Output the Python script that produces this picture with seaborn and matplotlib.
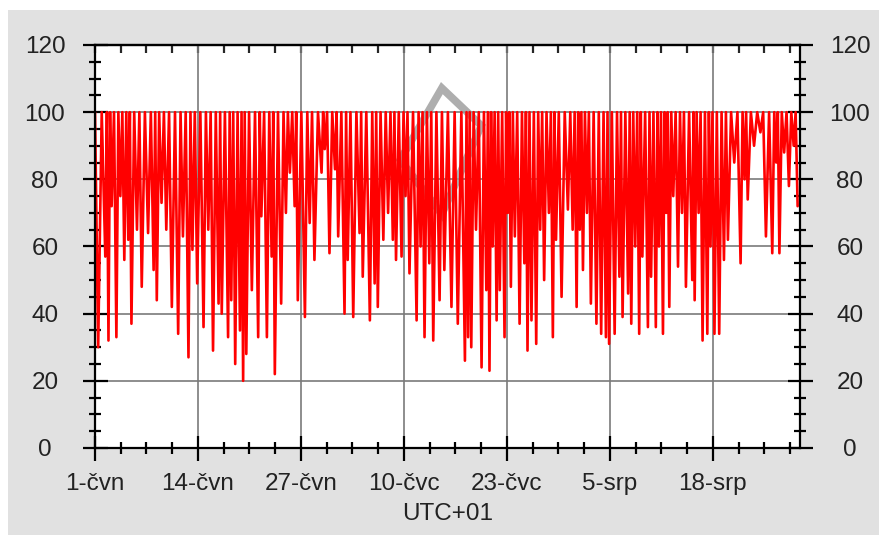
import numpy as np
import pandas as pd
import matplotlib
matplotlib.use("Agg")
import matplotlib.pyplot as plt
import matplotlib.dates as mdates
from matplotlib.patches import Rectangle, Polygon
from matplotlib.ticker import FixedLocator, MultipleLocator
import seaborn as sns

# relative humidity troughs: day offset from 1 June, value in %
trough_day = [0.4, 1.3, 1.7, 2.1, 2.7, 3.2, 3.7, 4.2, 4.6, 5.3, 5.9, 6.7, 7.4, 7.8, 8.4, 9.0,
              9.7, 10.5, 11.1, 11.8, 12.3, 12.9, 13.7, 14.3, 14.9,
              15.6, 16.0, 16.8, 17.2, 17.7, 18.3, 18.7, 19.1, 19.8, 20.6, 21.0, 21.7, 22.3,
              22.7, 23.5, 24.1, 24.6, 25.2, 25.6, 26.5, 27.1, 27.7, 28.6, 29.0, 29.6, 30.3,
              30.7, 31.5, 31.9, 32.6, 33.4, 33.8, 34.7, 35.3, 35.7, 36.4, 37.0, 37.6, 38.0,
              38.7, 39.2, 39.7, 40.6, 41.1, 41.6, 42.2, 42.7, 43.5, 44.1, 45.0,
              45.8, 46.7, 47.1, 47.5, 48.1, 48.8, 49.4, 49.8, 50.2, 50.7, 51.1, 51.7, 52.1,
              52.5, 53.0, 53.6, 54.2, 54.6, 55.1, 55.7, 56.2, 56.7, 57.3, 57.8, 58.2, 58.9,
              59.7, 60.3,
              60.8, 61.2, 61.6, 62.1, 62.6, 63.3, 63.9, 64.5, 64.9, 65.6, 66.2, 66.6, 67.3,
              67.7, 68.2, 68.7, 69.1, 69.8, 70.2, 70.8, 71.2, 71.7, 72.1, 72.5, 73.0, 73.6,
              74.1, 74.6, 75.4,
              75.7, 76.2, 76.7, 77.3, 77.7, 78.2, 78.8, 79.4, 79.9, 80.7, 81.5, 82.0, 82.4,
              83.2, 84.0, 84.7, 85.5, 86.0, 86.4, 87.0, 87.6, 88.2, 88.7]
trough_val = [30, 57, 32, 72, 33, 75, 56, 62, 37, 65, 48, 64, 53, 44, 73, 65,
              42, 34, 63, 27, 59, 49, 36, 65, 29,
              43, 40, 33, 44, 25, 35, 20, 28, 47, 33, 69, 33, 57,
              22, 43, 70, 82, 72, 44, 39, 67, 56, 82, 89, 58, 83,
              63, 40, 56, 39, 64, 51, 38, 49, 42, 62, 70, 62, 56,
              57, 75, 52, 38, 60, 33, 55, 32, 44, 53, 42,
              37, 26, 33, 30, 65, 24, 47, 23, 60, 38, 47, 33, 70,
              48, 63, 37, 55, 29, 38, 31, 65, 50, 70, 33, 62, 45,
              71, 65,
              42, 65, 53, 70, 43, 37, 34, 33, 31, 34, 51, 39, 46,
              37, 60, 34, 57, 36, 51, 36, 60, 34, 70, 42, 75, 54,
              70, 48, 50,
              44, 70, 32, 34, 60, 34, 34, 56, 62, 85, 55, 80, 74,
              90, 94, 63, 58, 85, 58, 88, 78, 90, 72]
SATURATION = 100  # humidity ceiling reached between troughs

start = pd.Timestamp("2015-06-01")
n_days = 89
tick_labels = ["1-čvn", "14-čvn", "27-čvn", "10-čvc", "23-čvc", "5-srp", "18-srp"]
tick_step = 13

# build the series: ceiling between consecutive troughs
xs, ys = [0.0], [SATURATION]
for i, (d, v) in enumerate(zip(trough_day, trough_val)):
    xs.append(d)
    ys.append(v)
    if i + 1 < len(trough_day):
        xs.append((d + trough_day[i + 1]) / 2)
        ys.append(SATURATION)
df = pd.DataFrame({"time": start + pd.to_timedelta(xs, unit="D"), "rh": ys})

sns.set_style("white")
plt.rcParams["font.family"] = ["Liberation Sans", "DejaVu Sans"]

fig = plt.figure(figsize=(8.87, 5.35), dpi=100, facecolor="white")
bg = Rectangle((8 / 887, 0), 871 / 887, 525 / 535, transform=fig.transFigure,
               facecolor="#e1e1e1", edgecolor="none")
bg.set_zorder(-10)
fig.patches.append(bg)
ax = fig.add_axes([95 / 887, 87 / 535, 705 / 887, 403 / 535])
ax.set_facecolor("white")

# faint logo watermark behind the data
ax.add_patch(Polygon([(0.492, 0.893), (0.548, 0.80), (0.492, 0.58), (0.433, 0.715)],
                     closed=True, fill=False, edgecolor="#9a9a9a", lw=5.5, alpha=0.8,
                     transform=ax.transAxes, zorder=2))

sns.lineplot(data=df, x="time", y="rh", color="#ff0000", lw=1.9,
             estimator=None, sort=False, ax=ax, zorder=3)

x0 = mdates.date2num(start)
major = [x0 + tick_step * i for i in range(len(tick_labels))]
minor = list(np.arange(x0, x0 + n_days, tick_step / 4))
ax.set_xlim(x0, x0 + n_days)
ax.set_ylim(0, 120)
ax.xaxis.set_major_locator(FixedLocator(major))
ax.xaxis.set_minor_locator(FixedLocator(minor))
ax.set_xticklabels(tick_labels)
ax.yaxis.set_major_locator(MultipleLocator(20))
ax.yaxis.set_minor_locator(MultipleLocator(5))

ax.grid(True, which="major", color="#7a7a7a", lw=1.2)
ax.set_axisbelow(True)
for s in ax.spines.values():
    s.set_color("black")
    s.set_linewidth(1.6)
    s.set_zorder(5)

ax.tick_params(axis="both", which="major", direction="inout", length=18, width=1.6,
               color="black", labelsize=17.5, labelcolor="#222222")
ax.tick_params(axis="both", which="minor", direction="inout", length=8, width=1.6, color="black")
ax.tick_params(axis="y", which="both", left=True, right=True, labelleft=True,
               labelright=True, pad=27)
ax.tick_params(axis="x", which="both", bottom=True, top=False, pad=9)
for t in ax.yaxis.get_major_ticks():
    t.label1.set_horizontalalignment("center")
    t.label2.set_horizontalalignment("center")

top = ax.secondary_xaxis("top")
top.xaxis.set_major_locator(FixedLocator(major))
top.xaxis.set_minor_locator(FixedLocator(minor))
top.tick_params(which="both", direction="in", length=6, width=1.6, labeltop=False)
top.spines["top"].set_linewidth(1.6)

ax.set_xlabel("UTC+01", fontsize=17.5, color="#222222", labelpad=6)
ax.set_ylabel("")

fig.savefig("out.png", dpi=100, facecolor=fig.get_facecolor())
